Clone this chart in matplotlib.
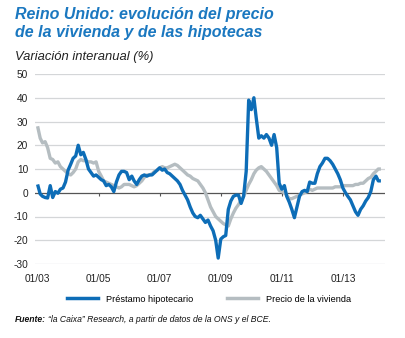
import matplotlib
matplotlib.use("Agg")
import matplotlib.pyplot as plt
from matplotlib.lines import Line2D
import numpy as np
import pandas as pd

# Monthly year-on-year change (%), Jan 2003 - Apr 2014
prestamo = [
    3.5, -0.5, -1.5, -2.0, -2.2, 3.0, -2.0, 0.5, -0.2, 1.5, 2.0, 4.5,        # 2003
    9.5, 12.0, 14.5, 15.5, 20.0, 16.0, 17.0, 14.0, 10.0, 8.5, 7.0, 7.5,      # 2004
    6.5, 5.5, 5.0, 3.0, 3.5, 2.5, 0.5, 4.5, 7.5, 9.0, 9.0, 8.5,              # 2005
    5.5, 7.0, 5.0, 3.5, 5.5, 7.0, 7.5, 7.0, 7.5, 7.5, 8.5, 9.5,              # 2006
    10.5, 9.5, 10.0, 8.5, 8.0, 7.0, 6.0, 5.0, 3.5, 1.0, -1.0, -3.0,          # 2007
    -6.0, -8.5, -10.0, -10.5, -9.5, -11.0, -12.5, -11.5, -14.0, -16.0, -20.0, -27.5,  # 2008
    -19.5, -18.5, -18.0, -7.0, -3.5, -1.5, -1.0, -1.0, -4.5, -1.5, 9.0, 39.0,         # 2009
    35.0, 40.0, 31.5, 23.0, 24.0, 23.0, 24.5, 23.0, 20.0, 24.5, 19.0, 4.0,   # 2010
    1.5, 3.0, -1.5, -4.0, -7.0, -10.5, -6.0, -1.5, 0.5, 1.0, 0.5, 4.5,       # 2011
    4.0, 4.0, 8.0, 11.0, 12.5, 14.5, 14.5, 13.5, 12.0, 10.0, 8.0, 5.5,       # 2012
    2.0, 0.0, -1.5, -3.0, -5.5, -8.0, -9.5, -7.0, -5.5, -3.5, -2.0, 0.5,     # 2013
    5.5, 7.0, 5.0, 5.0,                                                      # 2014
]

precio = [
    28.0, 23.0, 21.0, 21.5, 19.0, 14.5, 14.0, 12.5, 13.0, 11.0, 10.0, 9.0,   # 2003
    8.0, 7.5, 8.5, 10.0, 13.0, 14.0, 13.5, 13.5, 13.0, 13.0, 12.5, 13.0,     # 2004
    9.0, 7.0, 5.0, 4.5, 4.0, 3.5, 3.0, 2.5, 2.0, 2.5, 3.5, 3.5,              # 2005
    3.5, 3.0, 2.5, 3.0, 4.0, 5.0, 6.5, 7.5, 7.5, 8.0, 9.0, 9.5,              # 2006
    10.5, 11.0, 10.5, 10.5, 11.0, 11.5, 12.0, 11.5, 10.5, 9.5, 8.5, 7.5,     # 2007
    7.0, 6.0, 5.5, 5.0, 3.5, 2.0, 0.0, -3.0, -6.0, -8.0, -10.0, -11.0,       # 2008
    -12.0, -13.0, -13.5, -14.0, -11.0, -8.5, -6.5, -5.0, -3.0, -1.5, 1.0, 3.5,  # 2009
    5.5, 8.0, 9.5, 10.5, 11.0, 10.0, 9.0, 7.5, 6.0, 4.5, 3.0, 1.0,           # 2010
    0.5, 0.0, -1.0, -2.5, -2.5, -2.0, -1.5, -1.0, -0.5, 0.0, 0.5, 1.5,       # 2011
    1.0, 1.5, 2.0, 2.0, 2.0, 2.0, 2.0, 2.0, 2.0, 2.5, 2.5, 2.5,              # 2012
    3.0, 3.0, 3.0, 3.0, 3.0, 3.5, 3.5, 4.0, 4.0, 5.0, 6.0, 6.5,              # 2013
    8.0, 9.0, 10.0, 10.0,                                                    # 2014
]

tick_labels = ["01/03", "01/05", "01/07", "01/09", "01/11", "01/13"]
y_ticks = [-30, -20, -10, 0, 10, 20, 30, 40, 50]
serie_names = ["Préstamo hipotecario", "Precio de la vivienda"]

fechas = pd.date_range("2003-01-01", periods=len(prestamo), freq="MS")
tick_dates = pd.to_datetime(["2003-01-01", "2005-01-01", "2007-01-01",
                             "2009-01-01", "2011-01-01", "2013-01-01"])

BLUE = "#0d6db7"
GREY = "#b5bdc1"
TITLE_BLUE = "#1b78c0"

plt.rcParams["font.family"] = ["Liberation Sans", "DejaVu Sans"]

fig = plt.figure(figsize=(4.06, 3.38), dpi=100)
ax = fig.add_axes([35 / 406, 1 - 264 / 338, 350 / 406, 190 / 338])

# Grid
for v in y_ticks:
    if v != 0:
        ax.axhline(v, color="#d4d6d8", lw=0.9, zorder=0)
ax.axhline(0, color="#555555", lw=0.9, zorder=1)
ax.vlines(tick_dates[1:], -1.3, 0, color="#555555", lw=0.8, zorder=1)

ax.plot(fechas, precio, color=GREY, lw=2.4, solid_capstyle="butt", zorder=2)
ax.plot(fechas, prestamo, color=BLUE, lw=2.4, solid_capstyle="butt", zorder=3)

ax.set_ylim(-30, 50)
ax.set_xlim(pd.Timestamp("2002-12-01"), pd.Timestamp("2014-05-20"))
ax.set_yticks(y_ticks)
ax.set_yticklabels([str(v) for v in y_ticks])
ax.set_xticks(tick_dates)
ax.set_xticklabels(tick_labels)
ax.tick_params(axis="both", length=0, labelsize=7.3, colors="#222222")
ax.tick_params(axis="x", pad=7)
ax.tick_params(axis="y", pad=5)
for s in ax.spines.values():
    s.set_visible(False)

# Titles
fig.text(15 / 406, 1 - 7 / 338,
         "Reino Unido: evolución del precio\nde la vivienda y de las hipotecas",
         ha="left", va="top", fontsize=11.5, fontweight="bold", style="italic",
         color=TITLE_BLUE, linespacing=1.22)
fig.text(15 / 406, 1 - 51 / 338, "Variación interanual (%)",
         ha="left", va="top", fontsize=9.4, style="italic", color="#222222")

# Legend
handles = [Line2D([], [], color=BLUE, lw=2.5),
           Line2D([], [], color=GREY, lw=2.5)]
fig.legend(handles, serie_names, loc="center", bbox_to_anchor=(0.515, 1 - 299 / 338),
           ncol=2, frameon=False, handlelength=3.4, columnspacing=3.6,
           handletextpad=0.9, prop={"size": 6.6})

# Source note
t1 = fig.text(15 / 406, 1 - 320 / 338, "Fuente:", ha="left", va="center",
              fontsize=6.2, fontweight="bold", style="italic", color="#111111")
fig.canvas.draw()
bb = t1.get_window_extent()
fig.text((bb.x1 + 2) / 406, 1 - 320 / 338,
         "“la Caixa” Research, a partir de datos de la ONS y el BCE.",
         ha="left", va="center", fontsize=6.2, style="italic", color="#111111")

fig.savefig("out.png", dpi=100)
